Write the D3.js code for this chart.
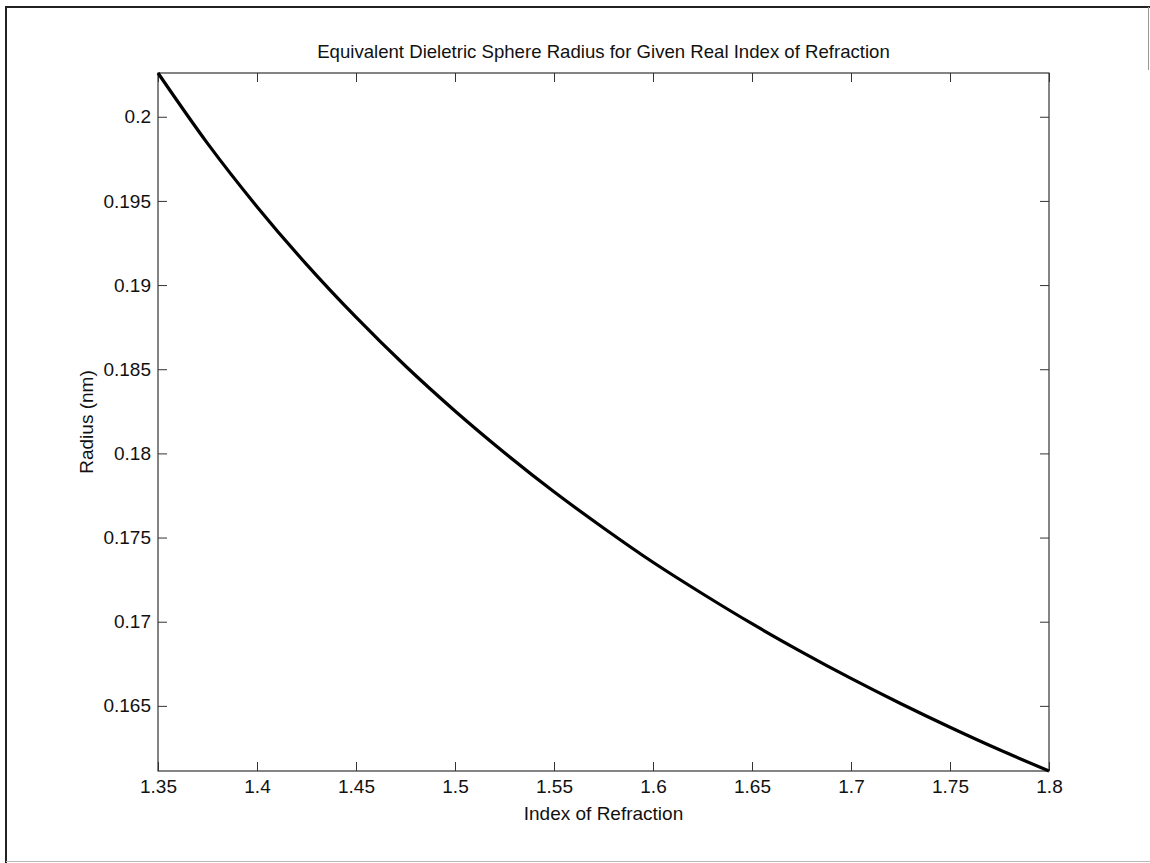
<!DOCTYPE html>
<html>
<head>
<meta charset="utf-8">
<script src="https://cdn.jsdelivr.net/npm/d3@7"></script>
<style>
  html, body { margin: 0; padding: 0; background: #fff; }
  svg { display: block; font-family: "Liberation Sans", Arial, sans-serif; }
</style>
</head>
<body>
<div class="chart"></div>
<script>
// values
const refIndex = [1.35, 1.375, 1.4, 1.425, 1.45, 1.475, 1.5, 1.525, 1.55, 1.575,
                  1.6, 1.625, 1.65, 1.675, 1.7, 1.725, 1.75, 1.775, 1.8];
const radius = [0.2026, 0.19842, 0.19466, 0.19123, 0.18809, 0.18519, 0.18252, 0.18004, 0.17772, 0.17557,
                0.17353, 0.17166, 0.16988, 0.16821, 0.16663, 0.16514, 0.16373, 0.16239, 0.16113];
const xTicks = [1.35, 1.4, 1.45, 1.5, 1.55, 1.6, 1.65, 1.7, 1.75, 1.8];
const yTicks = [0.165, 0.17, 0.175, 0.18, 0.185, 0.19, 0.195, 0.2];
const titleText = "Equivalent Dieletric Sphere Radius for Given Real Index of Refraction";
const xLabel = "Index of Refraction";
const yLabel = "Radius (nm)";

const width = 1150, height = 863;
const margin = { left: 158, top: 73, right: 1150 - 1049, bottom: 863 - 771 };
const plotW = width - margin.left - margin.right;
const plotH = height - margin.top - margin.bottom;

const svg = d3.select(".chart")
    .append("svg")
    .attr("width", width)
    .attr("height", height);

// figure frame (scanned page edges)
svg.append("line").attr("x1", 5).attr("x2", 1150).attr("y1", 7).attr("y2", 7)
    .attr("stroke", "#222").attr("stroke-width", 2);
svg.append("line").attr("x1", 6).attr("x2", 6).attr("y1", 6).attr("y2", 863)
    .attr("stroke", "#222").attr("stroke-width", 2);
svg.append("line").attr("x1", 6).attr("x2", 1150).attr("y1", 861.5).attr("y2", 861.5)
    .attr("stroke", "#bbb").attr("stroke-width", 1);
svg.append("line").attr("x1", 1148.5).attr("x2", 1148.5).attr("y1", 7).attr("y2", 70)
    .attr("stroke", "#999").attr("stroke-width", 1);

const x = d3.scaleLinear().domain([1.35, 1.8]).range([0, plotW]);
const y = d3.scaleLinear().domain([0.16113, 0.2026]).range([plotH, 0]);

const g = svg.append("g").attr("transform", `translate(${margin.left},${margin.top})`);

const tickLen = 9;
const fmt = d3.format("");

function styleAxis(sel) {
    sel.select(".domain").remove();
    sel.selectAll(".tick line").attr("stroke", "#333").attr("stroke-width", 1);
    sel.selectAll(".tick text").attr("fill", "#111").style("font-size", "19px")
        .style("font-family", "'Liberation Sans', Arial, sans-serif");
}

// bottom axis with labels, inward ticks
g.append("g")
    .attr("transform", `translate(0,${plotH})`)
    .call(d3.axisBottom(x).tickValues(xTicks).tickFormat(fmt).tickSizeInner(-tickLen).tickSizeOuter(0).tickPadding(9))
    .call(styleAxis);

// top axis, ticks only
g.append("g")
    .call(d3.axisTop(x).tickValues(xTicks).tickFormat("").tickSizeInner(-tickLen).tickSizeOuter(0))
    .call(styleAxis);

// left axis with labels
g.append("g")
    .call(d3.axisLeft(y).tickValues(yTicks).tickFormat(fmt).tickSizeInner(-tickLen).tickSizeOuter(0).tickPadding(7))
    .call(styleAxis);

// right axis, ticks only
g.append("g")
    .attr("transform", `translate(${plotW},0)`)
    .call(d3.axisRight(y).tickValues(yTicks).tickFormat("").tickSizeInner(-tickLen).tickSizeOuter(0))
    .call(styleAxis);

// box
g.append("rect")
    .attr("width", plotW).attr("height", plotH)
    .attr("fill", "none").attr("stroke", "#333").attr("stroke-width", 1.2);

// the curve
const line = d3.line()
    .x((d, i) => x(refIndex[i]))
    .y(d => y(d))
    .curve(d3.curveMonotoneX);

g.append("path")
    .datum(radius)
    .attr("d", line)
    .attr("fill", "none")
    .attr("stroke", "#000")
    .attr("stroke-width", 3.2)
    .attr("stroke-linejoin", "round");

// texts
svg.append("text")
    .attr("x", margin.left + plotW / 2).attr("y", 58)
    .attr("text-anchor", "middle")
    .style("font-size", "18.6px").attr("fill", "#111")
    .text(titleText);

svg.append("text")
    .attr("x", margin.left + plotW / 2).attr("y", 820)
    .attr("text-anchor", "middle")
    .style("font-size", "19px").attr("fill", "#111")
    .text(xLabel);

svg.append("text")
    .attr("transform", `translate(93,${margin.top + plotH / 2}) rotate(-90)`)
    .attr("text-anchor", "middle")
    .style("font-size", "19px").attr("fill", "#111")
    .text(yLabel);
</script>
</body>
</html>
